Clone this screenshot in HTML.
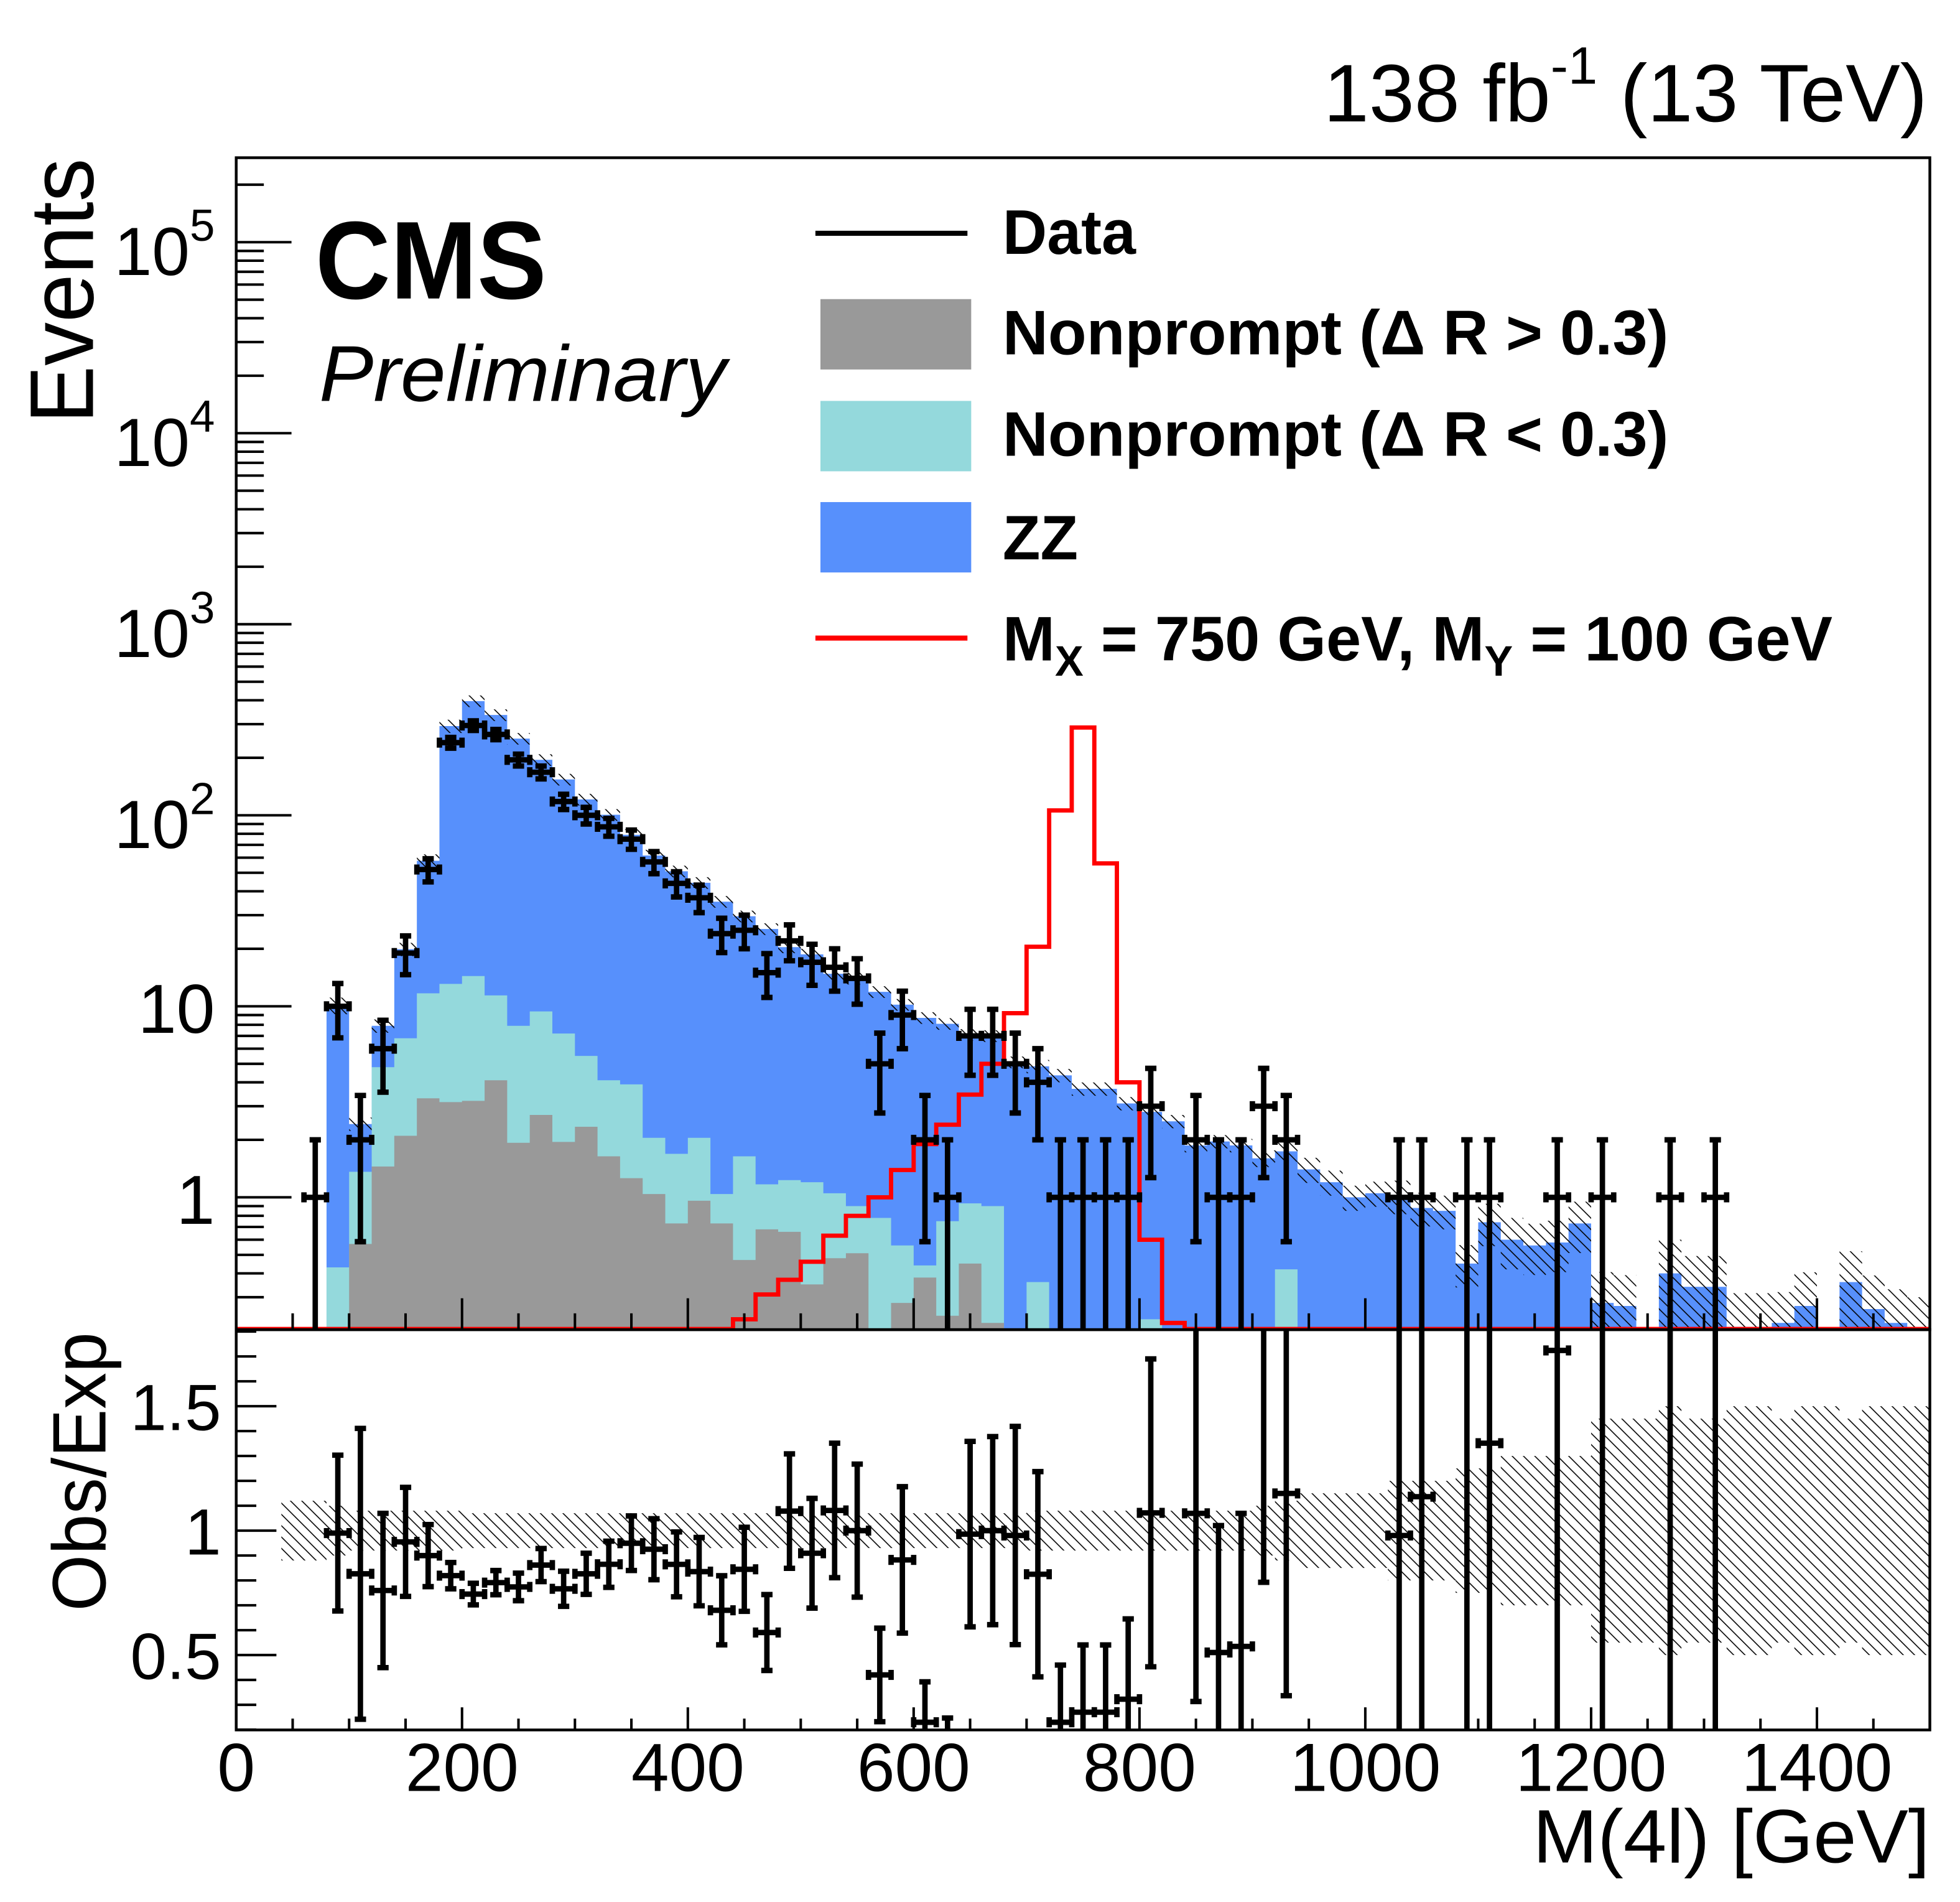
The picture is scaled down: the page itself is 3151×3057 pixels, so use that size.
<!DOCTYPE html>
<html><head><meta charset="utf-8"><style>
html,body{margin:0;padding:0;background:#fff;}
svg{display:block;}
text{font-family:"Liberation Sans",sans-serif;fill:#000;}
</style></head><body>
<svg id="chart" width="3151" height="3057" viewBox="0 0 1560 1513.4" preserveAspectRatio="none" xmlns="http://www.w3.org/2000/svg">
<defs>
<pattern id="hatch" patternUnits="userSpaceOnUse" width="9" height="9">
<path d="M-1,-1 L10,10 M-1,8 L1,10 M8,-1 L10,1" stroke="#000" stroke-width="0.8"/>
</pattern>
<clipPath id="clipUp"><rect x="188" y="125.5" width="1348" height="932.5"/></clipPath>
<clipPath id="clipLo"><rect x="188" y="1058" width="1348" height="318.5"/></clipPath>
</defs>
<g id="layer-up" clip-path="url(#clipUp)"></g>
<g id="layer-lo" clip-path="url(#clipLo)"></g>
<g id="axes"></g>

<text x="1534" y="96.6" font-size="65" text-anchor="end">138 fb<tspan font-size="42" dy="-30">-1</tspan><tspan dy="30"> (13 TeV)</tspan></text>
<text x="251" y="237.5" font-size="88" font-weight="bold" textLength="184" lengthAdjust="spacingAndGlyphs">CMS</text>
<text x="254" y="319" font-size="63" font-style="italic" textLength="324" lengthAdjust="spacingAndGlyphs">Preliminary</text>
<text transform="translate(74,126) rotate(-90)" font-size="72" text-anchor="end" textLength="211" lengthAdjust="spacingAndGlyphs">Events</text>
<text transform="translate(84,1060) rotate(-90)" font-size="60" text-anchor="end" textLength="222" lengthAdjust="spacingAndGlyphs">Obs/Exp</text>
<text x="1536" y="1482" font-size="60" text-anchor="end" textLength="316" lengthAdjust="spacingAndGlyphs">M(4l) [GeV]</text>

<g>
<line x1="649" x2="770" y1="185.6" y2="185.6" stroke="#000" stroke-width="4"/>
<text x="798" y="202" font-size="50" font-weight="bold" textLength="106" lengthAdjust="spacingAndGlyphs">Data</text>
<rect x="653" y="238" width="120" height="56" fill="#999999"/>
<text x="798" y="282" font-size="50" font-weight="bold" textLength="530" lengthAdjust="spacingAndGlyphs">Nonprompt (Δ R &gt; 0.3)</text>
<rect x="653" y="319" width="120" height="56" fill="#94d9dc"/>
<text x="798" y="362.7" font-size="50" font-weight="bold" textLength="530" lengthAdjust="spacingAndGlyphs">Nonprompt (Δ R &lt; 0.3)</text>
<rect x="653" y="399.5" width="120" height="56" fill="#5790fc"/>
<text x="798" y="445" font-size="50" font-weight="bold" textLength="60" lengthAdjust="spacingAndGlyphs">ZZ</text>
<line x1="649" x2="770" y1="507.7" y2="507.7" stroke="#ff0000" stroke-width="4"/>
<text x="798" y="525.6" font-size="50" font-weight="bold">M<tspan font-size="34" dy="12">X</tspan><tspan dy="-12"> = 750 GeV, M</tspan><tspan font-size="34" dy="12">Y</tspan><tspan dy="-12"> = 100 GeV</tspan></text>
</g>
</svg>
<script>
// bins: lower edges start at 40 GeV, width 20 GeV
const binLow = [40,60,80,100,120,140,160,180,200,220,240,260,280,300,320,340,360,380,400,420,440,460,480,500,520,540,560,580,600,620,640,660,680,700,720,740,760,780,800,820,840,860,880,900,920,940,960,980,1000,1020,1040,1060,1080,1100,1120,1140,1160,1180,1200,1220,1240,1260,1280,1300,1320,1340,1360,1380,1400,1420,1440,1460,1480];
// ZZ stacked total (events)
const zzTotal = [0,0,10.1,2.42,7.9,19.9,57.8,293,396,335,252,195,154,121,100.6,79,61.6,50.9,44.3,35.3,29.6,25.4,20.4,18.7,14.8,14,11.9,10.2,8.7,8.1,7.1,7.0,5.1,4.85,4.35,3.7,3.7,3.1,2.8,2.5,1.87,1.96,1.87,1.6,1.74,1.4,1.2,1.0,1.05,1.02,0.88,0.85,0.45,0.74,0.6,0.56,0.58,0.73,0.28,0.27,0,0.4,0.34,0.34,0.21,0.21,0.22,0.27,0,0.36,0.26,0.22,0.2];
// nonprompt (dR<0.3) stacked on nonprompt (dR>0.3)
const npLowTotal = [0,0,0.43,1.36,4.8,6.8,11.7,13.1,14.4,11.4,7.9,9.4,7.2,5.5,4.1,3.9,2.05,1.69,2.05,1.04,1.64,1.17,1.23,1.2,1.05,0.9,0.78,0.56,0.44,0.75,0.93,0.9,0,0.36,0,0,0,0,0.23,0,0,0,0,0,0.42,0,0,0,0,0,0,0,0,0,0,0,0,0,0,0,0,0,0,0,0,0,0,0,0,0,0,0,0];
const npHigh = [0,0,0,0.57,1.45,2.1,3.3,3.15,3.2,4.1,1.93,2.7,1.95,2.34,1.64,1.26,1.04,0.73,0.96,0.73,0.47,0.68,0.66,0.35,0.48,0.51,0,0.28,0.38,0.24,0.45,0.22,0,0,0,0,0,0,0,0,0,0,0,0,0,0,0,0,0,0,0,0,0,0,0,0,0,0,0,0,0,0,0,0,0,0,0,0,0,0,0,0,0];
// observed data counts
const dataCounts = [0,1,10,2,6,19,52,240,295,265,195,168,118,100,87,75,57,44,37,24,25,15,22,17,16,14,5,9,2,1,7,7,5,4,1,1,1,1,3,0,2,1,1,3,2,0,0,0,0,1,1,0,1,1,0,0,1,0,1,0,0,1,0,1,0,0,0,0,0,0,0,0,0];
// signal MX=750, MY=100
const signal = [0,0,0,0,0,0,0,0,0,0,0,0,0,0,0,0,0,0,0,0,0.23,0.31,0.37,0.46,0.63,0.8,1.0,1.39,1.9,2.4,3.45,5.0,9.2,20.5,106,288,56,4.0,0.6,0.22,0,0,0,0,0,0,0,0,0,0,0,0,0,0,0,0,0,0,0,0,0,0,0,0,0,0,0,0,0,0,0,0,0];
// relative MC uncertainty
const relUnc = [0.12,0.12,0.1,0.08,0.08,0.08,0.08,0.08,0.07,0.07,0.07,0.07,0.07,0.07,0.07,0.07,0.07,0.07,0.07,0.07,0.07,0.07,0.07,0.07,0.07,0.07,0.07,0.07,0.07,0.07,0.07,0.07,0.07,0.08,0.08,0.08,0.08,0.08,0.08,0.08,0.08,0.08,0.08,0.1,0.12,0.15,0.15,0.15,0.15,0.2,0.2,0.2,0.25,0.25,0.3,0.3,0.3,0.3,0.45,0.45,0.45,0.5,0.45,0.45,0.5,0.5,0.45,0.5,0.5,0.45,0.5,0.5,0.5];
const binWidth = 20;
const xTicks = [0,200,400,600,800,1000,1200,1400];
const yDecades = [2,3,4,5];
const ratioTicks = [0.5,1,1.5];

const NS='http://www.w3.org/2000/svg';
const X0=188,X1=1536,YT=125.5,YB=1058,YB2=1376.5;
const xS=m=>X0+(X1-X0)*m/1500;
const Y1=952.7,DEC=152;
const yMin=Math.pow(10,(Y1-YB)/DEC);
const yS=v=>v<=yMin?YB+2:Math.max(YT-5,Y1-DEC*Math.log10(v));
const rS=r=>1217.9-198*(r-1);
function mk(tag,attrs,parent){const e=document.createElementNS(NS,tag);for(const k in attrs)e.setAttribute(k,attrs[k]);parent.appendChild(e);return e;}
const up=document.getElementById('layer-up'),lo=document.getElementById('layer-lo'),ax=document.getElementById('axes');

function stepPath(vals,f){
  let d='';
  for(let i=0;i<binLow.length;i++){
    const v=vals[i]; if(!(v>0)) continue;
    const xa=xS(binLow[i]),xb=xS(binLow[i]+binWidth),y=f(v);
    d+=`M${xa},${YB+2}L${xa},${y}L${xb},${y}L${xb},${YB+2}Z`;
  }
  return d;
}
let p;
p=mk('path',{d:stepPath(zzTotal,yS),fill:'#5790fc'},up);


p=mk('path',{d:stepPath(npLowTotal,yS),fill:'#94d9dc'},up);


p=mk('path',{d:stepPath(npHigh,yS),fill:'#999999'},up);



let dh='';
for(let i=0;i<binLow.length;i++){
  const v=zzTotal[i]; if(!(v>0)) continue;
  const xa=xS(binLow[i]),xb=xS(binLow[i]+binWidth);
  const ya=yS(v*(1+relUnc[i])),yb=yS(v*(1-relUnc[i]));
  dh+=`M${xa},${ya}L${xb},${ya}L${xb},${yb}L${xa},${yb}Z`;
}
p=mk('path',{d:dh,fill:'url(#hatch)'},up);



let ds=`M${X0},${YB-0.5}`;
for(let i=0;i<binLow.length;i++){
  const xa=xS(binLow[i]),xb=xS(binLow[i]+binWidth);
  const y=signal[i]>0?yS(signal[i]):YB-0.5;
  ds+=`L${xa},${y}L${xb},${y}`;
}
ds+=`L${X1},${YB-0.5}`;
p=mk('path',{d:ds,fill:'none',stroke:'#ff0000','stroke-width':3.4},up);



function errPoint(parent,xc,hw,yc,yhi,ylo,name){
  const g=mk('g',{stroke:'#000','stroke-width':4.3,fill:'none'},parent);
  
  
  mk('line',{x1:xc-hw,x2:xc+hw,y1:yc,y2:yc},g);
  mk('line',{x1:xc,x2:xc,y1:yhi,y2:ylo},g);
  mk('line',{x1:xc-hw,x2:xc-hw,y1:yc-4,y2:yc+4},g);
  mk('line',{x1:xc+hw,x2:xc+hw,y1:yc-4,y2:yc+4},g);
  mk('line',{x1:xc-4.5,x2:xc+4.5,y1:yhi,y2:yhi},g);
  mk('line',{x1:xc-4.5,x2:xc+4.5,y1:ylo,y2:ylo},g);
}
for(let i=0;i<binLow.length;i++){
  const n=dataCounts[i]; if(!(n>0)) continue;
  const xc=xS(binLow[i]+binWidth/2),hw=(xS(binWidth)-X0)/2;
  const e=Math.sqrt(n);
  errPoint(up,xc,hw,yS(n),yS(n+e),yS(n-e),'data-point');
}
let dr='';
for(let i=0;i<binLow.length;i++){
  const xa=xS(binLow[i]),xb=xS(binLow[i]+binWidth);
  dr+=`M${xa},${rS(1+relUnc[i])}L${xb},${rS(1+relUnc[i])}L${xb},${rS(1-relUnc[i])}L${xa},${rS(1-relUnc[i])}Z`;
}
p=mk('path',{d:dr,fill:'url(#hatch)'},lo);


for(let i=0;i<binLow.length;i++){
  const n=dataCounts[i],m=zzTotal[i]; if(!(n>0&&m>0)) continue;
  const r=n/m,e=r/Math.sqrt(n);
  const xc=xS(binLow[i]+binWidth/2),hw=(xS(binWidth)-X0)/2;
  errPoint(lo,xc,hw,rS(r),rS(r+e),rS(r-e),'ratio-point');
}

p=mk('rect',{x:X0,y:YT,width:X1-X0,height:YB-YT,fill:'none',stroke:'#000','stroke-width':2.2},ax);


p=mk('rect',{x:X0,y:YB,width:X1-X0,height:YB2-YB,fill:'none',stroke:'#000','stroke-width':2.2},ax);


let dt='';
for(let m=0;m<=1500;m+=50){
  const x=xS(m),big=(m%200===0);
  const Lu=big?25:13,Ll=big?18:9;
  dt+=`M${x},${YB}L${x},${YB-Lu}M${x},${YB2}L${x},${YB2-Ll}`;
}
for(let d=-1;d<=5;d++){
  for(let k=1;k<10;k++){
    const v=k*Math.pow(10,d); const y=Y1-DEC*Math.log10(v);
    if(y<YT||y>YB) continue;
    const L=k===1?44:22;
    dt+=`M${X0},${y}L${X0+L},${y}`;
  }
}
for(let r=0.2;r<=1.8001;r+=0.1){
  const y=rS(r); const big=Math.abs(r*2-Math.round(r*2))<1e-6;
  const L=big?32:16;
  dt+=`M${X0},${y}L${X0+L},${y}`;
}
p=mk('path',{d:dt,stroke:'#000','stroke-width':2,fill:'none'},ax);



for(const t of xTicks){
  const tx=mk('text',{x:xS(t),y:1425,'font-size':54,'text-anchor':'middle'},ax);
  tx.textContent=String(t);
  
  
}
for(const d of yDecades){
  const y=Y1-DEC*d;
  const tx=mk('text',{x:171,y:y+26,'font-size':54,'text-anchor':'end'},ax);
  
  
  const a=mk('tspan',{},tx);a.textContent='10';
  const b=mk('tspan',{'font-size':36,dy:-27},tx);b.textContent=String(d);
}
for(const [v,lab] of [[10,'10'],[1,'1']]){
  const tx=mk('text',{x:171,y:Y1-DEC*Math.log10(v)+21,'font-size':55,'text-anchor':'end'},ax);
  tx.textContent=lab;
  
  
}
for(const r of ratioTicks){
  const tx=mk('text',{x:176,y:rS(r)+19,'font-size':52,'text-anchor':'end'},ax);
  tx.textContent=String(r);
  
  
}
</script>
</body></html>
